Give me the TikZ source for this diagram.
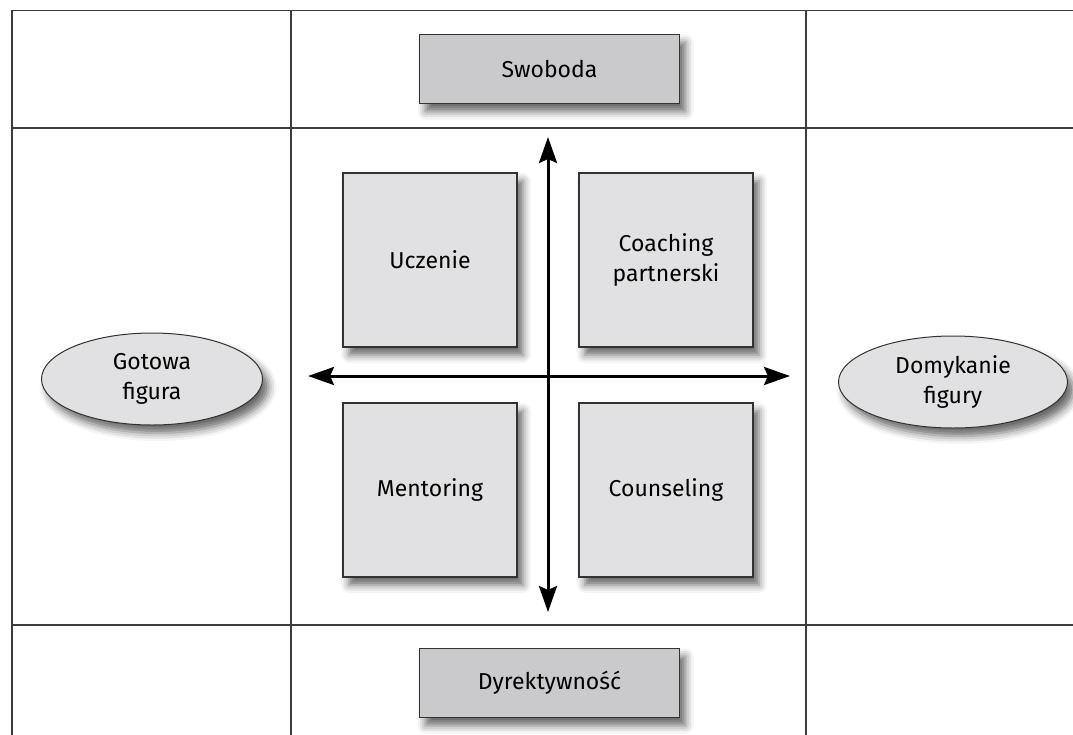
\documentclass[tikz,border=0pt]{standalone}
\usepackage{fontspec}
\setmainfont{Fira Sans}
\usepackage{tikz}
\usetikzlibrary{arrows.meta, shapes.geometric, shadows.blur}
\definecolor{quadfill}{HTML}{E1E1E3}
\definecolor{axisfill}{HTML}{CACACC}
\definecolor{gridgray}{HTML}{3C3C3C}
\tikzset{
  softshadow/.style={blur shadow={shadow xshift=3pt, shadow yshift=-4pt, shadow blur radius=4pt, shadow opacity=60}},
  quadbox/.style={draw=black!80, fill=quadfill, line width=0.6pt, minimum width=87pt, minimum height=87pt,
    align=center, font=\fontsize{11.5}{15}\selectfont, softshadow},
  axisbox/.style={draw=black!80, fill=axisfill, line width=0.6pt, minimum width=130pt, minimum height=34.5pt,
    font=\fontsize{11.5}{15}\selectfont, softshadow},
  poleoval/.style={ellipse, draw=black!80, fill=quadfill, line width=0.5pt, inner sep=0pt, minimum height=46pt,
    align=center, font=\fontsize{11.5}{15}\selectfont, softshadow},
  gridline/.style={gridgray, line width=0.7pt},
  axisarrow/.style={line width=1.5pt, {Stealth[length=13pt, width=9pt, inset=2pt]}-{Stealth[length=13pt, width=9pt, inset=2pt]}}
}

\begin{document}
\begin{tikzpicture}[x=0.5pt, y=-0.5pt]
    \useasboundingbox (0,0) rectangle (1073,735);

    % Grid
    \draw[gridline] (12,10.5) -- (1073,10.5);
    \draw[gridline] (12,128) -- (1073,128);
    \draw[gridline] (12,625) -- (1073,625);
    \foreach \gx in {12,291,806} {
      \draw[gridline] (\gx,10) -- (\gx,735);
    }

    % Axis labels
    \node[axisbox] (swoboda) at (549.5,69) {Swoboda};
    \node[axisbox] (dyrekt) at (549.5,683) {Dyrektywność};

    % Quadrants
    \node[quadbox] (uczenie) at (430,260) {Uczenie};
    \node[quadbox] (coaching) at (666,260) {Coaching\\partnerski};
    \node[quadbox] (mentoring) at (430,490) {Mentoring};
    \node[quadbox] (counseling) at (666,490) {Counseling};

    % Poles
    \node[poleoval, minimum width=110.5pt] (gotowa) at (152,379) {Gotowa\\figura};
    \node[poleoval, minimum width=114.5pt] (domyk) at (953,382) {Domykanie\\figury};

    % Axes
    \coordinate (ntip) at (548,137);
    \coordinate (stip) at (548,612);
    \coordinate (wtip) at (308,376);
    \coordinate (etip) at (790,376);
    \draw[axisarrow] (stip) -- (ntip);
    \draw[axisarrow] (wtip) -- (etip);
\end{tikzpicture}
\end{document}
